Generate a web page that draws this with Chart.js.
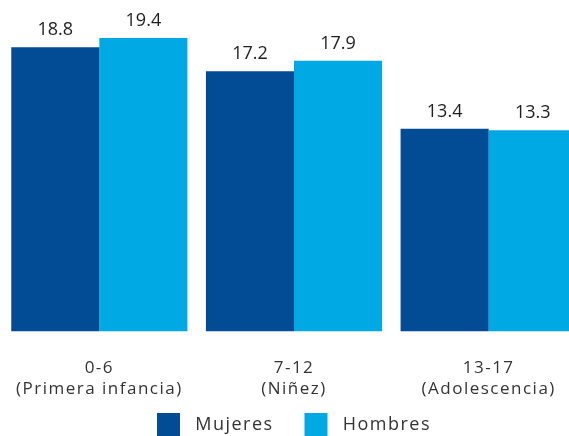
<!DOCTYPE html>
<html>
<head>
<meta charset="utf-8">
<script src="https://cdn.jsdelivr.net/npm/chart.js@4.4.0/dist/chart.umd.min.js"></script>
<style>
  html, body { margin: 0; padding: 0; background: #fff; overflow: hidden; height: 436px; }
  #wrap { width: 588px; height: 446px; }
</style>
</head>
<body>
<div id="wrap"><canvas id="grupos"></canvas></div>
<script>
// Datos
var categorias = [['0-6', '(Primera infancia)'], ['7-12', '(Niñez)'], ['13-17', '(Adolescencia)']];
var mujeres = [18.8, 17.2, 13.4];
var hombres = [19.4, 17.9, 13.3];

// la fuente original es más ancha, se compensa con espaciado
var spacing = {
    id: 'spacing',
    beforeLayout: function (chart) { chart.ctx.letterSpacing = '1.5px'; },
    beforeDraw: function (chart) { chart.ctx.letterSpacing = '1.5px'; }
};

// etiquetas encima de cada barra
var valueLabels = {
    id: 'valueLabels',
    afterDatasetsDraw: function (chart) {
        var ctx = chart.ctx;
        ctx.save();
        ctx.letterSpacing = '0px';
        ctx.font = '18px "Open Sans"';
        ctx.fillStyle = '#1e1e1e';
        ctx.textAlign = 'center';
        ctx.textBaseline = 'alphabetic';
        chart.data.datasets.forEach(function (ds, i) {
            chart.getDatasetMeta(i).data.forEach(function (bar, j) {
                ctx.fillText(ds.data[j].toFixed(1), bar.x, bar.y - 12);
            });
        });
        ctx.restore();
    }
};

var ctx = document.getElementById('grupos').getContext('2d');
var chart = new Chart(ctx, {
    type: 'bar',
    data: {
        labels: categorias,
        datasets: [{
            label: 'Mujeres',
            data: mujeres,
            backgroundColor: '#024c95'
        }, {
            label: 'Hombres',
            data: hombres,
            backgroundColor: '#00a8e4'
        }]
    },
    options: {
        responsive: true,
        maintainAspectRatio: false,
        animation: false,
        categoryPercentage: 0.905,
        barPercentage: 1,
        layout: { padding: { left: 2, right: 2, top: 29, bottom: 0 } },
        scales: {
            x: {
                grid: { display: false, drawTicks: false },
                border: { display: false },
                ticks: { color: '#333', font: { family: 'Open Sans', size: 17, lineHeight: 1.25 }, padding: 26 },
                afterFit: function (scale) {
                    // sin margen extra a los lados y leyenda más cerca
                    scale.paddingLeft = 0;
                    scale.paddingRight = 0;
                    scale.height -= 13;
                }
            },
            y: {
                display: false,
                min: 0,
                max: 20
            }
        },
        plugins: {
            legend: {
                position: 'bottom',
                labels: {
                    color: '#333',
                    font: { family: 'Open Sans', size: 18 },
                    boxWidth: 23,
                    boxHeight: 23,
                    padding: 0,
                    generateLabels: function (chart) {
                        var items = Chart.defaults.plugins.legend.labels.generateLabels(chart);
                        items.forEach(function (it, i) {
                            it.text = ' ' + it.text + (i < items.length - 1 ? '     ' : '');
                        });
                        return items;
                    }
                }
            },
            tooltip: { enabled: false }
        }
    },
    plugins: [spacing, valueLabels]
});
</script>
</body>
</html>
